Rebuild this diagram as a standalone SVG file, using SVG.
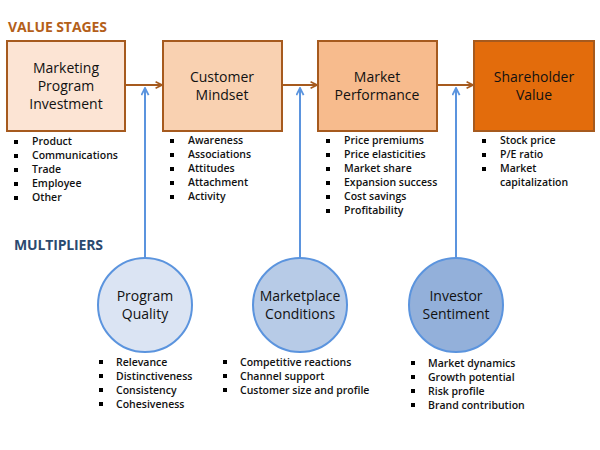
<svg xmlns="http://www.w3.org/2000/svg" width="600" height="450" viewBox="0 0 600 450">
<defs>
<marker id="ab" viewBox="0 0 10 10" refX="9" refY="5" markerWidth="8" markerHeight="8" markerUnits="userSpaceOnUse" orient="auto"><path d="M1,1 L9,5 L1,9" fill="none" stroke="#a65a1e" stroke-width="2"/></marker>
<marker id="ablue" viewBox="0 0 10 10" refX="9" refY="5" markerWidth="9" markerHeight="9" markerUnits="userSpaceOnUse" orient="auto"><path d="M1,1 L9,5 L1,9" fill="none" stroke="#5b94de" stroke-width="2"/></marker>
</defs>
<style>
text{font-family:"Open Sans","Noto Sans","Liberation Sans",sans-serif;fill:#111;font-weight:600}
.h{font-weight:bold;font-size:14px}
.n{font-size:14px;text-anchor:middle;font-weight:500}
.b{font-size:10.5px}
.box{stroke:#a65a1e;stroke-width:2}
.cir{stroke:#5b94de;stroke-width:2}
.sq{fill:#000}
</style>
<rect width="600" height="450" fill="#fff"/>
<text class="h" x="8" y="32" style="fill:#b45f1a" textLength="99">VALUE STAGES</text>
<text class="h" x="14" y="250" style="fill:#2b4a6f" textLength="89">MULTIPLIERS</text>

<g id="connectors" fill="none">
<line x1="126" y1="85" x2="162" y2="85" stroke="#a65a1e" stroke-width="2" marker-end="url(#ab)"/>
<line x1="282" y1="85" x2="317" y2="85" stroke="#a65a1e" stroke-width="2" marker-end="url(#ab)"/>
<line x1="437" y1="85" x2="473" y2="85" stroke="#a65a1e" stroke-width="2" marker-end="url(#ab)"/>
<line x1="145" y1="258" x2="145" y2="88" stroke="#5b94de" stroke-width="2" marker-end="url(#ablue)"/>
<line x1="300" y1="258" x2="300" y2="88" stroke="#5b94de" stroke-width="2" marker-end="url(#ablue)"/>
<line x1="456" y1="258" x2="456" y2="88" stroke="#5b94de" stroke-width="2" marker-end="url(#ablue)"/>
</g>

<g id="stage1">
<rect class="box" x="7" y="41" width="118" height="90" fill="#fce4d4"/>
<text class="n" x="66" y="73">Marketing</text>
<text class="n" x="66" y="91">Program</text>
<text class="n" x="66" y="109">Investment</text>
<g class="b"><rect class="sq" x="14" y="140" width="4" height="4"/><text x="32" y="145">Product</text>
<rect class="sq" x="14" y="154" width="4" height="4"/><text x="32" y="159">Communications</text>
<rect class="sq" x="14" y="168" width="4" height="4"/><text x="32" y="173">Trade</text>
<rect class="sq" x="14" y="182" width="4" height="4"/><text x="32" y="187">Employee</text>
<rect class="sq" x="14" y="196" width="4" height="4"/><text x="32" y="201">Other</text></g>
</g>

<g id="stage2">
<rect class="box" x="163" y="41" width="119" height="90" fill="#f9d1b1"/>
<text class="n" x="222" y="82">Customer</text>
<text class="n" x="222" y="100">Mindset</text>
<g class="b"><rect class="sq" x="170" y="139" width="4" height="4"/><text x="188" y="144">Awareness</text>
<rect class="sq" x="170" y="153" width="4" height="4"/><text x="188" y="158">Associations</text>
<rect class="sq" x="170" y="167" width="4" height="4"/><text x="188" y="172">Attitudes</text>
<rect class="sq" x="170" y="181" width="4" height="4"/><text x="188" y="186">Attachment</text>
<rect class="sq" x="170" y="195" width="4" height="4"/><text x="188" y="200">Activity</text></g>
</g>

<g id="stage3">
<rect class="box" x="318" y="41" width="119" height="90" fill="#f7bb8d"/>
<text class="n" x="377" y="82">Market</text>
<text class="n" x="377" y="100">Performance</text>
<g class="b"><rect class="sq" x="326" y="139" width="4" height="4"/><text x="344" y="144">Price premiums</text>
<rect class="sq" x="326" y="153" width="4" height="4"/><text x="344" y="158">Price elasticities</text>
<rect class="sq" x="326" y="167" width="4" height="4"/><text x="344" y="172">Market share</text>
<rect class="sq" x="326" y="181" width="4" height="4"/><text x="344" y="186">Expansion success</text>
<rect class="sq" x="326" y="195" width="4" height="4"/><text x="344" y="200">Cost savings</text>
<rect class="sq" x="326" y="209" width="4" height="4"/><text x="344" y="214">Profitability</text></g>
</g>

<g id="stage4">
<rect class="box" x="474" y="41" width="120" height="90" fill="#e36c0c"/>
<text class="n" x="534" y="82">Shareholder</text>
<text class="n" x="534" y="100">Value</text>
<g class="b"><rect class="sq" x="482" y="139" width="4" height="4"/><text x="500" y="144">Stock price</text>
<rect class="sq" x="482" y="153" width="4" height="4"/><text x="500" y="158">P/E ratio</text>
<rect class="sq" x="482" y="167" width="4" height="4"/><text x="500" y="172">Market</text>
<text x="500" y="186">capitalization</text></g>
</g>

<g id="mult1">
<circle class="cir" cx="145" cy="305" r="47" fill="#dbe4f3"/>
<text class="n" x="145" y="301">Program</text>
<text class="n" x="145" y="319">Quality</text>
<g class="b"><rect class="sq" x="99" y="360" width="4" height="4"/><text x="116" y="366">Relevance</text>
<rect class="sq" x="99" y="374" width="4" height="4"/><text x="116" y="380">Distinctiveness</text>
<rect class="sq" x="99" y="388" width="4" height="4"/><text x="116" y="394">Consistency</text>
<rect class="sq" x="99" y="402" width="4" height="4"/><text x="116" y="408">Cohesiveness</text></g>
</g>

<g id="mult2">
<circle class="cir" cx="300" cy="305" r="47" fill="#b7cbe7"/>
<text class="n" x="300" y="301">Marketplace</text>
<text class="n" x="300" y="319">Conditions</text>
<g class="b"><rect class="sq" x="223" y="360" width="4" height="4"/><text x="240" y="366">Competitive reactions</text>
<rect class="sq" x="223" y="374" width="4" height="4"/><text x="240" y="380">Channel support</text>
<rect class="sq" x="223" y="388" width="4" height="4"/><text x="240" y="394">Customer size and profile</text></g>
</g>

<g id="mult3">
<circle class="cir" cx="456" cy="305" r="47" fill="#93b0da"/>
<text class="n" x="456" y="301">Investor</text>
<text class="n" x="456" y="319">Sentiment</text>
<g class="b"><rect class="sq" x="411" y="361" width="4" height="4"/><text x="428" y="367">Market dynamics</text>
<rect class="sq" x="411" y="375" width="4" height="4"/><text x="428" y="381">Growth potential</text>
<rect class="sq" x="411" y="389" width="4" height="4"/><text x="428" y="395">Risk profile</text>
<rect class="sq" x="411" y="403" width="4" height="4"/><text x="428" y="409">Brand contribution</text></g>
</g>
</svg>
